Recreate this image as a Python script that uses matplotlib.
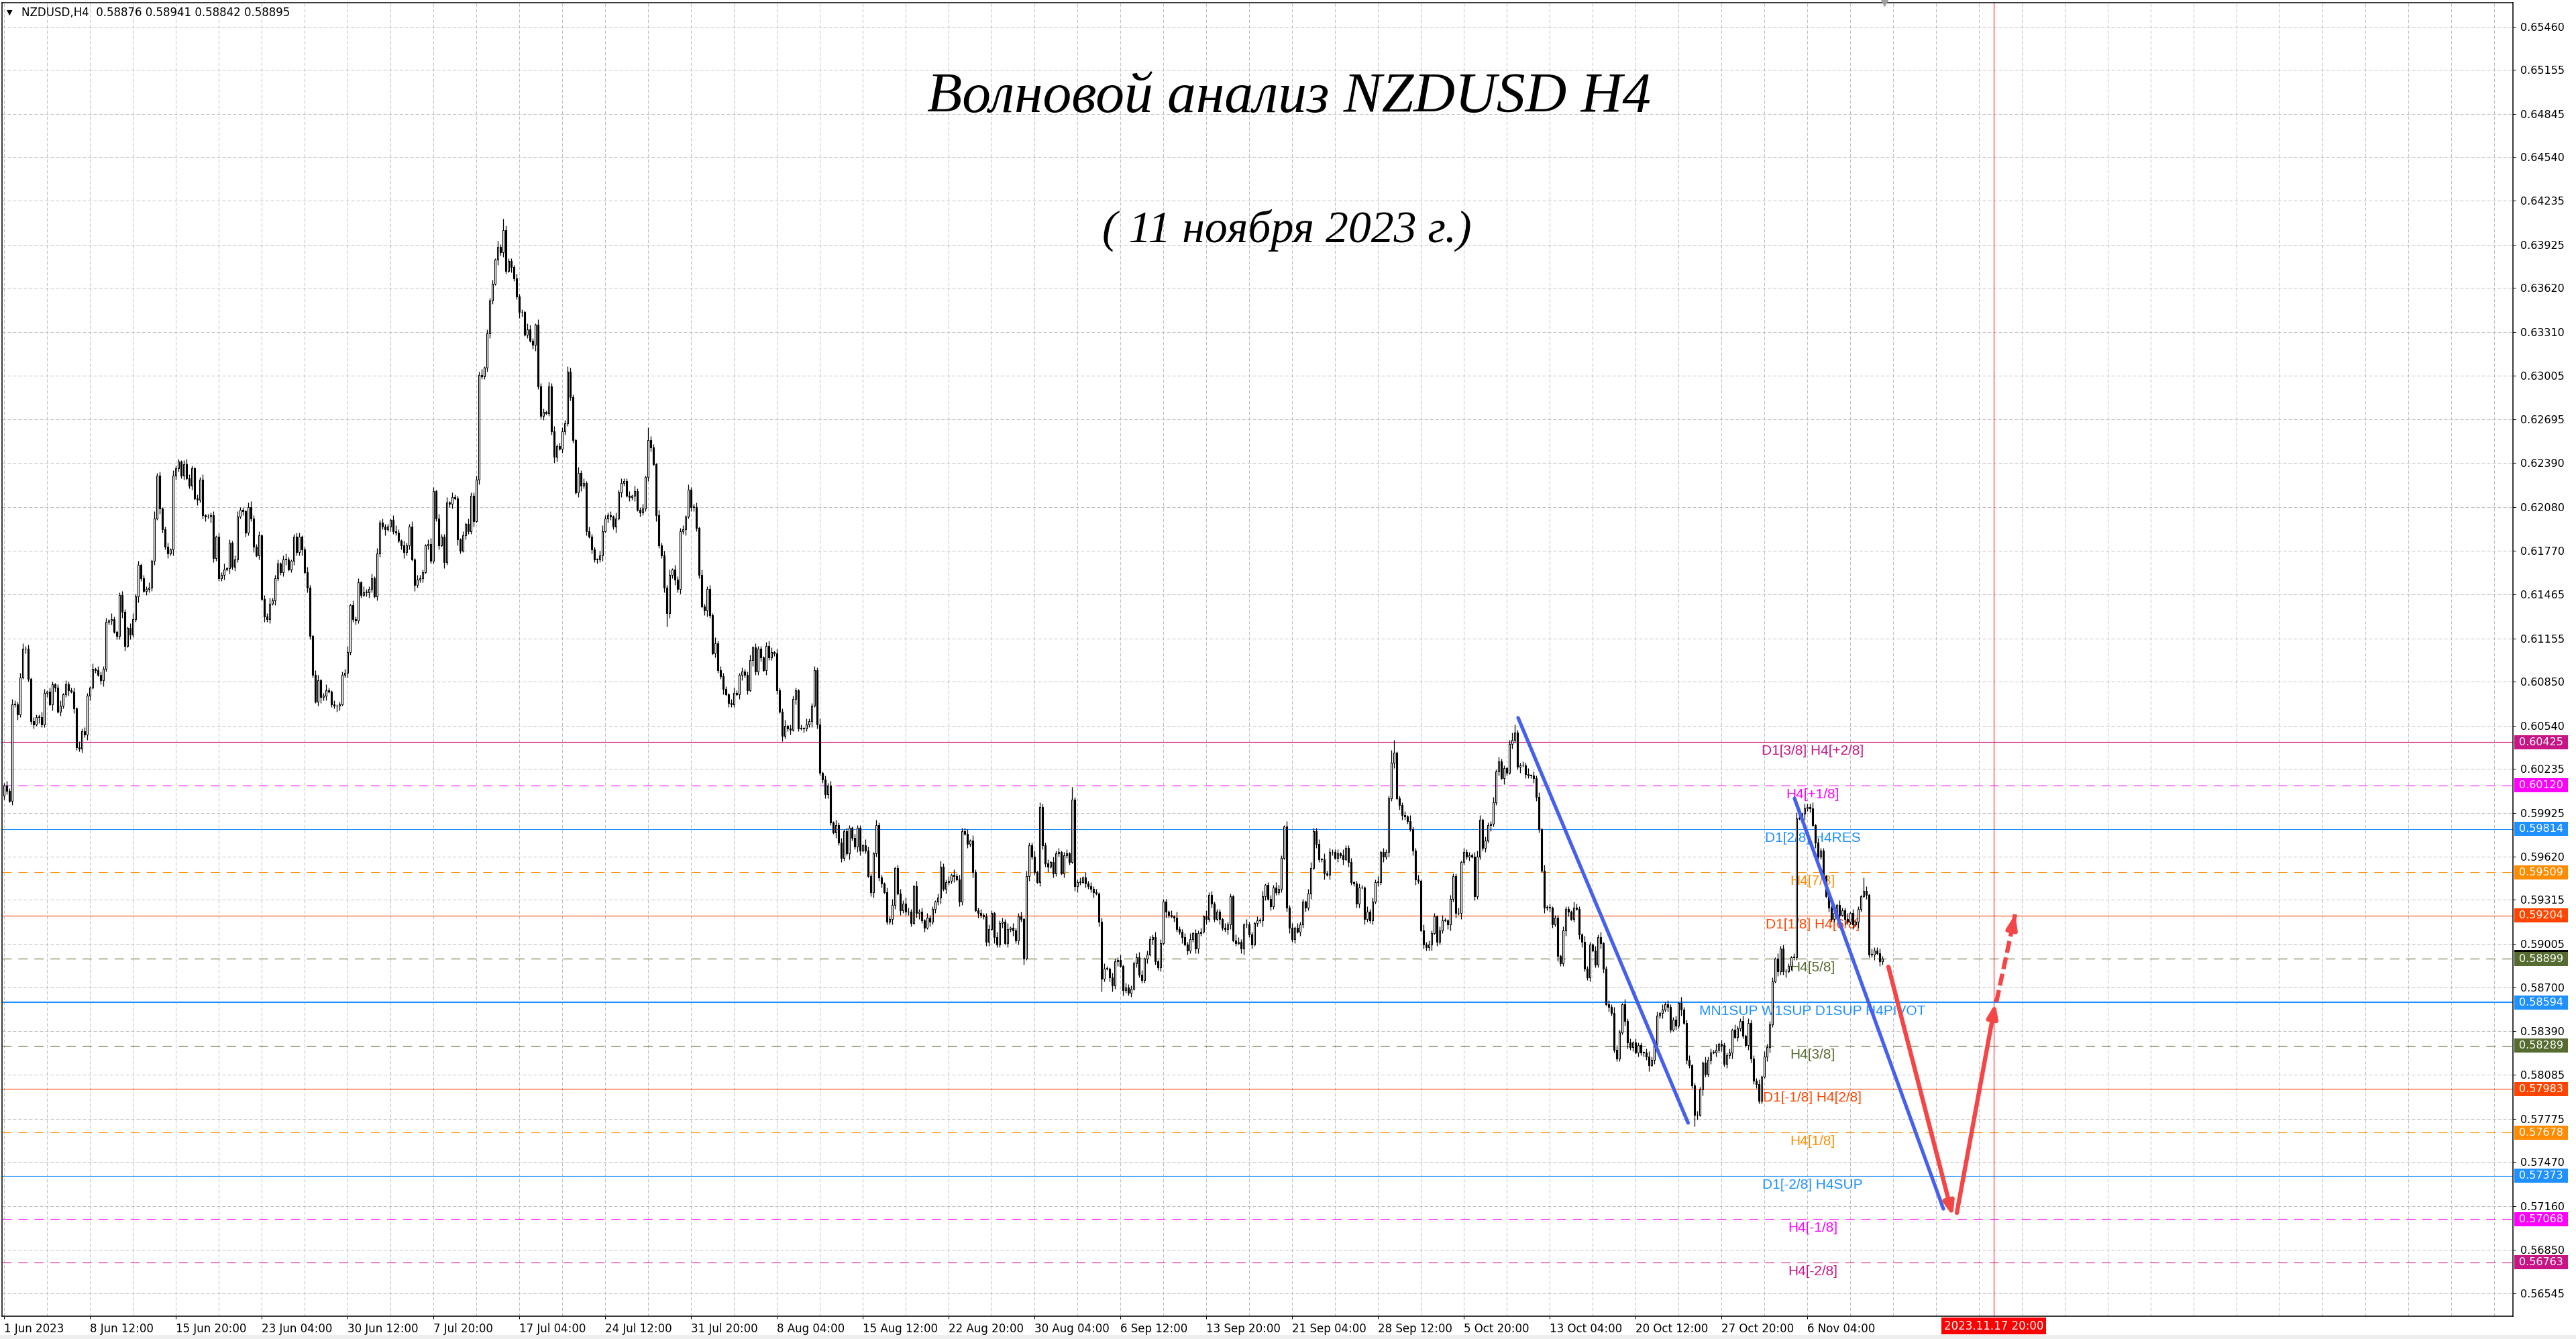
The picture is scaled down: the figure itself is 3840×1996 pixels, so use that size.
import numpy as np
import matplotlib
matplotlib.use("Agg")
import matplotlib.pyplot as plt
from matplotlib.patches import Rectangle, FancyArrowPatch
from matplotlib.transforms import blended_transform_factory, offset_copy

# NZDUSD H4 closes in pips (x 0.0001), 1 Jun - 10 Nov 2023
close_jun = [6012, 6008, 6001, 6069, 6069, 6062, 6088, 6108, 6108, 6087,
             6057, 6055, 6060, 6060, 6055, 6077, 6078, 6069, 6083, 6081,
             6064, 6068, 6076, 6083, 6079, 6078, 6066, 6039, 6038, 6050,
             6048, 6075, 6081, 6094, 6093, 6090, 6086, 6094, 6127, 6128,
             6129, 6120, 6117, 6146, 6134, 6110, 6123, 6118, 6129, 6145,
             6167, 6158, 6149, 6150, 6151, 6170, 6200, 6230, 6207, 6192,
             6180, 6175, 6178, 6230, 6235, 6240, 6230, 6238, 6228, 6223,
             6235, 6214, 6213, 6227, 6202, 6201, 6201, 6202, 6172, 6187,
             6158, 6160, 6164, 6165, 6183, 6166, 6171, 6201, 6206, 6205,
             6190, 6208, 6200, 6180, 6174, 6188, 6143, 6131, 6129, 6140,
             6142, 6158, 6168, 6162, 6171, 6171, 6164, 6170, 6187, 6176,
             6187, 6178, 6162, 6151, 6117, 6090, 6071, 6086, 6074, 6075,
             6079, 6078, 6069, 6068, 6068, 6069, 6090, 6091, 6106, 6139,
             6129]
close_jul = [6128, 6155, 6146, 6148, 6148, 6150, 6158, 6145, 6175, 6197,
             6194, 6192, 6194, 6199, 6191, 6190, 6184, 6181, 6176, 6181,
             6194, 6171, 6153, 6157, 6158, 6162, 6181, 6182, 6170, 6219,
             6200, 6181, 6187, 6169, 6211, 6210, 6215, 6214, 6185, 6177,
             6188, 6196, 6191, 6216, 6198, 6227, 6301, 6300, 6306, 6330,
             6353, 6365, 6382, 6391, 6387, 6403, 6374, 6381, 6377, 6369,
             6356, 6345, 6345, 6329, 6333, 6325, 6322, 6336, 6293, 6272,
             6275, 6274, 6293, 6261, 6243, 6251, 6249, 6261, 6267, 6303,
             6285, 6255, 6218, 6232, 6223, 6225, 6191, 6187, 6178, 6171,
             6171, 6174, 6191, 6200, 6202, 6201, 6194, 6200, 6218, 6225,
             6226, 6216, 6215, 6216, 6219, 6206, 6204, 6207, 6229, 6255,
             6250, 6238, 6202, 6181, 6174, 6151, 6133, 6160, 6164, 6157,
             6150, 6191, 6192, 6201, 6220, 6208]
close_aug = [6208, 6193, 6160, 6138, 6135, 6150, 6132, 6105, 6112, 6093,
             6089, 6080, 6076, 6070, 6069, 6077, 6076, 6090, 6092, 6090,
             6079, 6100, 6109, 6092, 6108, 6102, 6093, 6110, 6102, 6106,
             6105, 6079, 6064, 6047, 6054, 6052, 6051, 6073, 6079, 6052,
             6052, 6052, 6055, 6057, 6068, 6093, 6055, 6021, 6016, 6006,
             6012, 5986, 5979, 5984, 5972, 5961, 5980, 5964, 5982, 5975,
             5969, 5982, 5966, 5970, 5966, 5948, 5937, 5964, 5984, 5947,
             5943, 5937, 5916, 5918, 5928, 5954, 5936, 5924, 5929, 5923,
             5923, 5915, 5941, 5922, 5923, 5917, 5912, 5919, 5916, 5925,
             5930, 5933, 5955, 5939, 5944, 5945, 5949, 5948, 5946, 5930,
             5980, 5978, 5971, 5973, 5951, 5924, 5922, 5921, 5920, 5902,
             5911, 5922, 5905, 5900, 5915, 5916, 5901, 5911, 5912, 5910,
             5903, 5920, 5918, 5890, 5948, 5970, 5962, 5951, 5944, 5997,
             5970, 5957, 5955, 5958, 5950, 5964, 5965, 5950]
close_sep = [5963, 5964, 5958, 6002, 5941, 5944, 5944, 5947, 5943, 5941,
             5939, 5937, 5936, 5916, 5876, 5883, 5883, 5877, 5871, 5888,
             5889, 5885, 5868, 5870, 5866, 5869, 5887, 5891, 5879, 5875,
             5890, 5893, 5904, 5905, 5888, 5884, 5901, 5930, 5923, 5921,
             5920, 5919, 5911, 5909, 5905, 5900, 5896, 5904, 5908, 5897,
             5908, 5909, 5920, 5918, 5935, 5929, 5918, 5923, 5918, 5912,
             5911, 5914, 5934, 5903, 5901, 5902, 5897, 5914, 5914, 5907,
             5900, 5915, 5917, 5917, 5934, 5942, 5932, 5927, 5940, 5937,
             5939, 5961, 5983, 5926, 5912, 5904, 5912, 5909, 5914, 5930,
             5926, 5936, 5954, 5980, 5971, 5960, 5960, 5950, 5949, 5965,
             5965, 5961, 5964, 5963, 5960, 5968, 5958, 5944, 5943, 5929,
             5940, 5940, 5918, 5923, 5917, 5930, 5944, 5944, 5965, 5962,
             5965, 6003, 6028, 6035, 6003, 5998]
close_oct = [5991, 5990, 5987, 5981, 5966, 5946, 5945, 5910, 5900, 5898,
             5900, 5908, 5920, 5902, 5910, 5917, 5917, 5914, 5932, 5948,
             5922, 5922, 5958, 5965, 5962, 5963, 5962, 5934, 5962, 5988,
             5968, 5973, 5984, 5985, 6000, 6022, 6029, 6017, 6024, 6021,
             6041, 6044, 6049, 6025, 6026, 6026, 6020, 6019, 6019, 6017,
             6004, 5981, 5952, 5926, 5926, 5926, 5914, 5919, 5892, 5887,
             5910, 5925, 5923, 5918, 5926, 5925, 5907, 5902, 5883, 5877,
             5900, 5896, 5886, 5905, 5901, 5883, 5858, 5856, 5852, 5826,
             5820, 5838, 5858, 5846, 5831, 5828, 5831, 5824, 5829, 5824,
             5824, 5821, 5815, 5819, 5830, 5850, 5852, 5854, 5858, 5856,
             5840, 5847, 5843, 5859, 5854, 5845, 5819, 5815, 5801, 5780,
             5780, 5798, 5817, 5809, 5819, 5824, 5824, 5826, 5830, 5829,
             5816, 5822, 5824, 5840, 5835, 5841, 5846, 5836, 5829, 5845,
             5820, 5804]
close_nov = [5802, 5790, 5807, 5821, 5828, 5844, 5874, 5890, 5881, 5897,
             5881, 5881, 5885, 5891, 5891, 5989, 5989, 5992, 5996, 5997,
             5996, 5984, 5972, 5962, 5966, 5948, 5934, 5926, 5918, 5922,
             5928, 5921, 5924, 5918, 5916, 5922, 5914, 5916, 5925, 5934,
             5938, 5935, 5893, 5893, 5896, 5894, 5888, 5890]
open_first = 6005

# wick lengths in pips, one digit per bar
wick_up_jun = "2324323423 1322431321 2413223142 3214132231 4212321342 3122415231 2314221343 2132412231 3241213422 1342231324 2231342123 3124213412 4213122341 3"
wick_dn_jun = "3213242132 2314223143 1322413223 2431213422 3122431322 4213223142 2314322312 3142231432 2231423213 3224131423 1322341232 2413221342 3122431232 2"
wick_up_jul = "2314223142 3221342132 2413221343 1322413221 3142232413 2314283221 3221432142 2132412324 3214231322 1342231423 2231422319 3214232413 223142"
wick_dn_jul = "3221342132 2413221342 3142231322 2314223142 1322413223 3214232142 2431213422 3122431322 2213423132 3241322413 2132413223 3142239324 232413"
wick_up_aug = "2314223142 3221342132 2413221343 1322413221 3142232413 2314231221 3221432142 2132412324 3214231322 1342231423 2231422312 3214232413 2231422413 22314231"
wick_dn_aug = "3221342132 2413221342 3142231322 2314223142 1322413223 3214232142 2431213422 3122431322 2213423132 3241322413 2132413223 3142231324 2324132213 32413221"
wick_up_sep = "2319223142 3221342132 2413221343 1322413221 3142232413 2314231221 3221432142 2132412324 3214231322 1342231423 2231422312 3214232413 229912"
wick_dn_sep = "3221342132 2413921342 3142231322 2314223142 1322413223 3214232142 2431213422 3122431322 2213423132 3241322413 2132413223 3142231324 232413"
wick_up_oct = "2314223142 3221342132 2413221343 1322413221 3562232413 2314231221 3221432142 2132412324 3214231322 1342231423 2231422312 3214232413 2231422413 22"
wick_dn_oct = "3221342132 2413221342 3142231322 2314223142 1322413223 3214232142 2431213422 3122431322 2213423132 3241322413 2132413228 3142231324 2324132213 32"
wick_up_nov = "2314223142 3221342132 2413221343 1322413221 93142232"
wick_dn_nov = "3221342132 2413221342 3142231322 2314223142 13224132"

ytick_values = [0.65460, 0.65155, 0.64845, 0.64540, 0.64235, 0.63925, 0.63620, 0.63310,
                0.63005, 0.62695, 0.62390, 0.62080, 0.61770, 0.61465, 0.61155, 0.60850,
                0.60540, 0.60235, 0.59925, 0.59620, 0.59315, 0.59005, 0.58700, 0.58390,
                0.58085, 0.57775, 0.57470, 0.57160, 0.56850, 0.56545]
xtick_labels = ["1 Jun 2023", "8 Jun 12:00", "15 Jun 20:00", "23 Jun 04:00", "30 Jun 12:00",
                "7 Jul 20:00", "17 Jul 04:00", "24 Jul 12:00", "31 Jul 20:00", "8 Aug 04:00",
                "15 Aug 12:00", "22 Aug 20:00", "30 Aug 04:00", "6 Sep 12:00", "13 Sep 20:00",
                "21 Sep 04:00", "28 Sep 12:00", "5 Oct 20:00", "13 Oct 04:00", "20 Oct 12:00",
                "27 Oct 20:00", "6 Nov 04:00"]

level_prices = [0.60425, 0.60120, 0.59814, 0.59509, 0.59204, 0.58899, 0.58594,
                0.58289, 0.57983, 0.57678, 0.57373, 0.57068, 0.56763]
level_names = ["D1[3/8] H4[+2/8]", "H4[+1/8]", "D1[2/8] H4RES", "H4[7/8]", "D1[1/8] H4[6/8]",
               "H4[5/8]", "MN1SUP W1SUP D1SUP H4PIVOT", "H4[3/8]", "D1[-1/8] H4[2/8]",
               "H4[1/8]", "D1[-2/8] H4SUP", "H4[-1/8]", "H4[-2/8]"]
level_colors = ["#C71585", "#FF00FF", "#1E90FF", "#FF8C00", "#FF4500", "#556B2F", "#1E90FF",
                "#556B2F", "#FF4500", "#FF8C00", "#1E90FF", "#FF00FF", "#C71585"]
level_dashed = [False, True, False, True, False, True, False, True, False, True, False, True, True]

header = "NZDUSD,H4  0.58876 0.58941 0.58842 0.58895"
current_price = 0.58895
title = "Волновой анализ NZDUSD H4"
subtitle = "( 11 ноября 2023 г.)"
future_bar = 741.5
future_label = "2023.11.17 20:00"

# hand-drawn wave markup (bar index, price)
blue_wave_1 = ([564.25, 627.6], [0.60596, 0.57745])
blue_wave_2 = ([667.25, 722.75], [0.60029, 0.57140])
red_down = ([702.25, 726.25], [0.58844, 0.57088])
red_up = ([727.75, 742.1], [0.57112, 0.58587])
red_up_dashed = ([742.5, 749.5], [0.58597, 0.59213])


def digits(s, count):
    s = s.replace(" ", "")
    return np.array([int(s[i]) if i < len(s) else 2 for i in range(count)])


plt.rcParams['font.family'] = ['DejaVu Sans']

W, H, DPI = 3840, 1996, 100
L, R, T, B = 3, 3746, 4, 1962
X0, BAR_PX = 6, 4.0
Y_TOP, Y_BOT = 0.65628, 0.56385
PPP = (B - T) / (Y_TOP - Y_BOT)  # pixels per price unit

fig = plt.figure(figsize=(W / DPI, H / DPI), dpi=DPI, facecolor='white')
ax = fig.add_axes([L / W, 1 - B / H, (R - L) / W, (B - T) / H])
ax.set_xlim((L - X0) / BAR_PX, (R - X0) / BAR_PX)
ax.set_ylim(Y_BOT, Y_TOP)

# grid
GRID = '#C0C0C0'
for v in ytick_values:
    ax.axhline(v, color=GRID, lw=0.72, ls=(0, (5, 3)), zorder=0)
for i in range(0, int((R - X0) / BAR_PX) + 1, 16):
    ax.axvline(i, color=GRID, lw=0.72, ls=(0, (5, 3)), zorder=0)

# level lines + labels
lab_tr = offset_copy(ax.transData, fig=fig, y=-4, units='dots')
for p, name, col, dashed in zip(level_prices, level_names, level_colors, level_dashed):
    lw = 1.5 if name.startswith("MN1") else 0.8
    ls = (0, (12.5, 9)) if dashed else '-'
    ax.axhline(p, color=col, lw=lw, ls=ls, zorder=1)
    ax.text(674, p, name, color=col, fontsize=15, family='Liberation Sans',
            ha='center', va='top', transform=lab_tr, zorder=2)

# future time line
ax.axvline(future_bar, color='red', lw=0.75, zorder=2)

# candles
closes = np.array(close_jun + close_jul + close_aug + close_sep + close_oct + close_nov) / 1e4
n = len(closes)
opens = np.concatenate([[open_first / 1e4], closes[:-1]])
w_up = digits(wick_up_jun + wick_up_jul + wick_up_aug + wick_up_sep + wick_up_oct + wick_up_nov, n)
w_dn = digits(wick_dn_jun + wick_dn_jul + wick_dn_aug + wick_dn_sep + wick_dn_oct + wick_dn_nov, n)
highs = np.maximum(opens, closes) + w_up * 1e-4
lows = np.minimum(opens, closes) - w_dn * 1e-4
x = np.arange(n)
ax.vlines(x, lows, highs, color='black', lw=0.9, zorder=3)
bull = closes >= opens
body_h = np.maximum(np.abs(closes - opens), 0.00003)
ax.bar(x, body_h, bottom=np.minimum(opens, closes), width=0.55,
       color=np.where(bull, 'white', 'black'), edgecolor='black', linewidth=0.8, zorder=4)

# wave markup
BLUE, RED = '#4660EE', '#F44646'
ax.plot(*blue_wave_1, color=BLUE, lw=3.8, solid_capstyle='round', zorder=6)
ax.plot(*blue_wave_2, color=BLUE, lw=3.8, solid_capstyle='round', zorder=6)
head = '-|>,head_length=12,head_width=4.5'
for xs, ys in (red_down, red_up):
    ax.add_patch(FancyArrowPatch((xs[0], ys[0]), (xs[1], ys[1]), arrowstyle=head,
                                 mutation_scale=1, lw=4.6, color=RED, shrinkA=0, shrinkB=0,
                                 capstyle='round', zorder=7))
xs, ys = red_up_dashed
ax.plot(xs, ys, color=RED, lw=4.6, ls=(0, (2.8, 1.1)), zorder=7)
xm, ym = xs[0] + 0.8 * (xs[1] - xs[0]), ys[0] + 0.8 * (ys[1] - ys[0])
ax.add_patch(FancyArrowPatch((xm, ym), (xs[1], ys[1]), arrowstyle=head, mutation_scale=1,
                             lw=4.6, color=RED, shrinkA=0, shrinkB=0, zorder=7))

# axes frame and ticks
for s in ax.spines.values():
    s.set_linewidth(1.1)
    s.set_color('black')
ax.yaxis.tick_right()
ax.set_yticks(ytick_values)
ax.set_yticklabels([f"{v:.5f}" for v in ytick_values])
ax.tick_params(axis='y', direction='out', length=3, width=0.75, pad=5, labelsize=11.5)
ax.set_xticks(np.arange(len(xtick_labels)) * 32)
ax.set_xticklabels(xtick_labels, ha='left')
ax.tick_params(axis='x', direction='out', length=3, width=0.75, pad=4, labelsize=12)

# price boxes on the right scale
box_tr = blended_transform_factory(ax.transAxes, ax.transData)
bx0, bw, bh = (3748 - L) / (R - L), 80 / (R - L), 21 / PPP
ax.add_patch(Rectangle((bx0, current_price - bh / 2 + 4 / PPP), bw, bh, transform=box_tr,
                       facecolor='black', edgecolor='none', clip_on=False, zorder=8))
for p, col in zip(level_prices, level_colors):
    ax.add_patch(Rectangle((bx0, p - bh / 2), bw, bh, transform=box_tr, facecolor=col,
                           edgecolor='none', clip_on=False, zorder=9))
    ax.text(bx0 + bw / 2, p, f"{p:.5f}", transform=box_tr, color='white', fontsize=11.5,
            ha='center', va='center', clip_on=False, zorder=10)

# future date box on the time scale
date_tr = blended_transform_factory(ax.transData, ax.transAxes)
ax.text(future_bar, -14.5 / (B - T), future_label, transform=date_tr, color='white', fontsize=12,
        ha='center', va='center', clip_on=False, zorder=10,
        bbox=dict(boxstyle='square,pad=0.2', facecolor='red', edgecolor='none'))

# chart shift marker
ax.plot([n - 0.25], [Y_TOP], marker='v', ms=7, color='#A0A0A0', clip_on=False, zorder=10)

# header and titles
fig.text(14 / W, 1 - 19 / H, "▼", fontsize=8, ha='center', va='center')
fig.text(32 / W, 1 - 19 / H, header, fontsize=12, ha='left', va='center')
t1 = fig.text(1922 / W, 1 - 147 / H, title, fontsize=60, family='Liberation Serif',
              style='italic', ha='center', va='center')
t2 = fig.text(1918 / W, 1 - 343 / H, subtitle, fontsize=60, family='Liberation Serif',
              style='italic', ha='center', va='center')
fig.canvas.draw()
rend = fig.canvas.get_renderer()
for t, target in ((t1, 1080), (t2, 551)):
    t.set_fontsize(t.get_fontsize() * target / t.get_window_extent(rend).width)

fig.patches.append(Rectangle((0, 0), 1, 6 / H, transform=fig.transFigure,
                             facecolor='#EEEEEE', edgecolor='none'))

fig.savefig('out.png', dpi=DPI, facecolor='white')
